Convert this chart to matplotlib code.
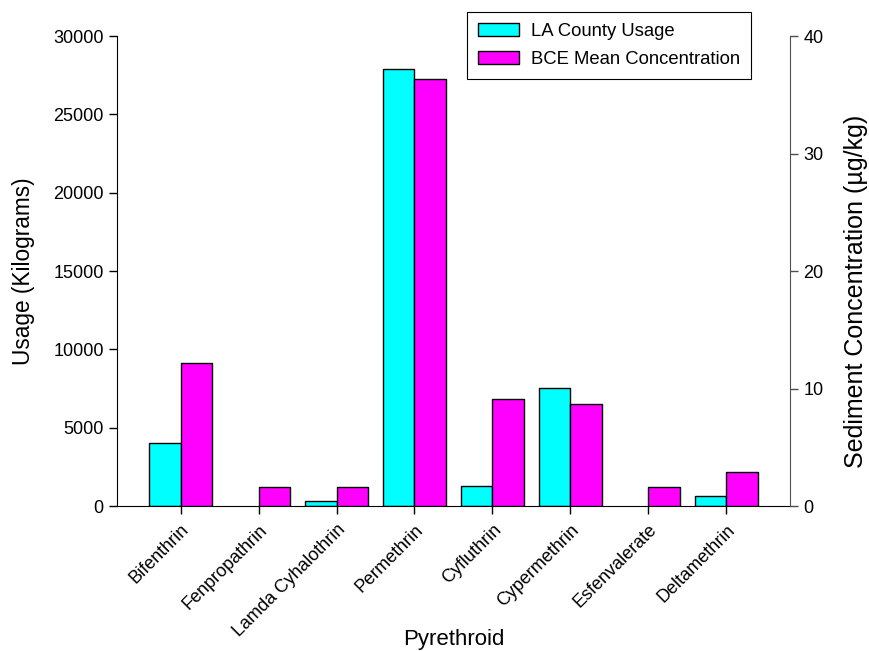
import numpy as np
from matplotlib import pyplot as plt
from matplotlib.patches import Patch

plt.rcParams['font.family'] = ['Liberation Sans', 'DejaVu Sans']

pyrethroids = ["Bifenthrin", "Fenpropathrin", "Lamda Cyhalothrin", "Permethrin",
               "Cyfluthrin", "Cypermethrin", "Esfenvalerate", "Deltamethrin"]
usage_kg = [4030, 0, 320, 27900, 1280, 7510, 0, 660]
bce_conc = [12.2, 1.64, 1.59, 36.3, 9.08, 8.65, 1.59, 2.92]

fig = plt.figure(figsize=(8.7, 6.51), dpi=100)
ax = fig.add_axes([0.1345, 0.2227, 0.7735, 0.722])
ax2 = ax.twinx()

x = np.arange(len(pyrethroids))
w = 0.4
# zero usage means no bar at all in the original
usage_plot = np.where(np.array(usage_kg) > 0, usage_kg, np.nan)
ax.bar(x - w / 2, usage_plot, w, color="#00ffff", edgecolor="black", linewidth=1.0)
ax2.bar(x + w / 2, bce_conc, w, color="#ff00ff", edgecolor="black", linewidth=1.0)

ax.set_xlim(-0.815, len(pyrethroids) - 1 + 0.815)
ax.set_ylim(0, 30000)
ax2.set_ylim(0, 40)
ax.set_yticks(range(0, 30001, 5000))
ax2.set_yticks(range(0, 41, 10))
ax.set_xticks(x)
ax.set_xticklabels(pyrethroids, rotation=45, ha="right", rotation_mode="anchor", fontsize=13)

for a in (ax, ax2):
    a.spines["top"].set_visible(False)
    a.tick_params(direction="out", length=6, width=1, labelsize=13)
ax.tick_params(axis="x", labelsize=13, pad=5)
ax.spines["right"].set_visible(False)
ax2.spines["left"].set_visible(False)
ax2.spines["bottom"].set_visible(False)
ax2.spines["right"].set_color("#505050")
ax2.tick_params(axis="y", colors="#505050", labelcolor="black")

ax.set_ylabel("Usage (Kilograms)", fontsize=16.3, va="center")
ax.yaxis.set_label_coords(-0.1397, 0.5)
ax2.set_ylabel("Sediment Concentration (\u00b5g/kg)", fontsize=18, va="center")
ax2.yaxis.set_label_coords(1.098, 0.457)
ax.set_xlabel("Pyrethroid", fontsize=16, va="center")
ax.xaxis.set_label_coords(0.5, -0.285)

handles = [Patch(facecolor="#00ffff", edgecolor="black", label="LA County Usage"),
           Patch(facecolor="#ff00ff", edgecolor="black", label="BCE Mean Concentration")]
leg = fig.legend(handles=handles, loc="upper left", bbox_to_anchor=(0.537, 0.9816),
                 fontsize=13.3, fancybox=False, edgecolor="black", framealpha=1,
                 borderaxespad=0, handlelength=2.2, handleheight=0.65, borderpad=0.6,
                 labelspacing=0.6, handletextpad=0.65)
leg.get_frame().set_linewidth(0.8)

fig.savefig("out.png", dpi=100)
